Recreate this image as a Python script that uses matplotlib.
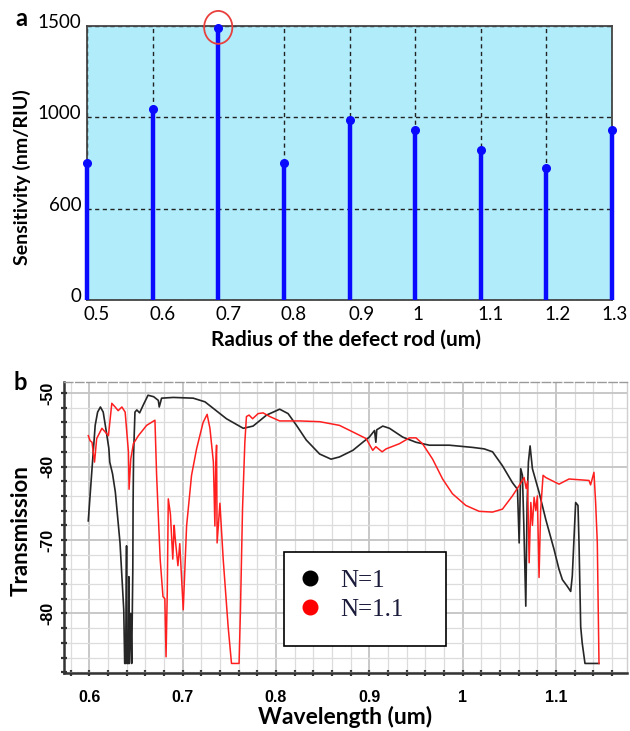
import numpy as np
import matplotlib
matplotlib.use('Agg')
import matplotlib.pyplot as plt
import matplotlib.transforms as mtransforms
from matplotlib.patches import Ellipse, Rectangle
from matplotlib.lines import Line2D

plt.rcParams['font.family'] = ['Lato', 'DejaVu Sans']

# panel a: sensitivity vs defect rod radius
radius = [0.5, 0.6, 0.7, 0.8, 0.9, 1.0, 1.1, 1.2, 1.3]
sensitivity = [800, 1043, 1490, 800, 987, 943, 859, 780, 943]
sens_ticks = [0, 600, 1000, 1500]
radius_labels = ['0.5', '0.6', '0.7', '0.8', '0.9', '1', '1.1', '1.2', '1.3']

# panel b: transmission spectra
wl_n1 = [0.599, 0.603, 0.6064, 0.609, 0.612, 0.615, 0.618, 0.621, 0.622, 0.625,
         0.628, 0.633, 0.637, 0.638, 0.639, 0.640, 0.6405, 0.642, 0.6425, 0.643,
         0.6445, 0.6455, 0.6467, 0.647, 0.6475, 0.649, 0.651, 0.654, 0.658, 0.663,
         0.669, 0.674, 0.675, 0.6765, 0.6775, 0.69, 0.7114, 0.724, 0.733, 0.747,
         0.765, 0.7755, 0.79, 0.804, 0.813, 0.822, 0.8325, 0.8468, 0.859, 0.868,
         0.8824, 0.893, 0.900, 0.9056, 0.907, 0.908, 0.9144, 0.9216, 0.9358, 0.95,
         0.9643, 0.9857, 1.0106, 1.023, 1.032, 1.0426, 1.0533, 1.0587, 1.0605, 1.0622,
         1.064, 1.0655, 1.0676, 1.069, 1.0704, 1.0722, 1.0747, 1.0818, 1.089, 1.0979,
         1.1032, 1.1068, 1.112, 1.1157, 1.1174, 1.121, 1.1235, 1.1246, 1.1264, 1.128,
         1.131, 1.146]
tr_n1 = [-67.4, -60.3, -54.4, -52.6, -51.9, -52.6, -55.0, -57.5, -59.4, -61.0,
         -63.5, -70.4, -79.5, -86.8, -86.8, -70.8, -86.8, -86.8, -75.0, -86.8,
         -80.0, -86.8, -74.0, -65.0, -58.5, -52.6, -52.3, -52.7, -51.6, -50.3,
         -50.5, -51.0, -51.9, -51.2, -50.7, -50.6, -50.7, -51.2, -52.1, -53.5,
         -54.8, -54.5, -53.0, -52.2, -52.8, -54.4, -56.4, -58.3, -59.0, -58.7,
         -57.8, -56.7, -56.0, -55.1, -56.7, -55.0, -54.5, -54.8, -56.0, -56.7,
         -57.1, -57.1, -57.4, -57.6, -58.0, -59.9, -62.2, -63.1, -70.4, -60.3,
         -61.2, -68.0, -79.0, -65.0, -59.4, -57.2, -60.3, -63.5, -67.2, -71.3,
         -74.0, -75.4, -76.3, -77.0, -74.9, -64.9, -65.3, -70.4, -81.8, -84.0,
         -86.8, -86.8]

wl_n11 = [0.599, 0.601, 0.603, 0.6057, 0.608, 0.6136, 0.6206, 0.6242, 0.6278, 0.631,
          0.635, 0.6385, 0.642, 0.6427, 0.6445, 0.6473, 0.6527, 0.6615, 0.6704, 0.6722,
          0.676, 0.679, 0.681, 0.6823, 0.6836, 0.6847, 0.687, 0.6895, 0.691, 0.6919,
          0.695, 0.697, 0.7007, 0.7043, 0.7096, 0.715, 0.722, 0.7263, 0.7293, 0.733,
          0.7346, 0.7355, 0.7364, 0.737, 0.740, 0.7435, 0.7488, 0.7524, 0.7605, 0.762,
          0.7642, 0.7667, 0.7684, 0.7712, 0.775, 0.7809, 0.7862, 0.7934, 0.804, 0.8254,
          0.8468, 0.868, 0.8824, 0.8966, 0.9037, 0.907, 0.9137, 0.918, 0.9322, 0.943,
          0.95, 0.957, 0.9678, 0.9785, 0.989, 1.0034, 1.0177, 1.032, 1.0426, 1.0533,
          1.0605, 1.0658, 1.068, 1.0695, 1.0712, 1.073, 1.0747, 1.0765, 1.0783, 1.08,
          1.0818, 1.0835, 1.0861, 1.089, 1.1032, 1.1139, 1.1353, 1.137, 1.1406, 1.1424,
          1.1442, 1.146]
tr_n11 = [-55.8, -56.5, -56.7, -59.4, -56.2, -54.8, -55.8, -51.4, -51.9, -52.4,
          -51.9, -52.6, -58.0, -63.1, -59.0, -56.9, -55.8, -54.4, -53.7, -61.2,
          -72.6, -77.7, -78.0, -85.9, -77.2, -64.4, -66.5, -72.6, -68.0, -69.5,
          -73.5, -70.5, -79.5, -68.1, -61.2, -57.6, -54.0, -52.9, -54.8, -59.4,
          -68.1, -60.0, -57.1, -70.4, -65.0, -72.6, -81.8, -86.8, -86.8, -79.5,
          -65.8, -56.7, -53.2, -53.0, -53.5, -52.8, -52.7, -53.2, -53.8, -53.8,
          -53.9, -54.4, -55.3, -56.2, -57.8, -57.3, -58.0, -57.6, -56.9, -56.1,
          -56.1, -56.9, -59.0, -61.7, -63.7, -65.3, -66.1, -66.2, -65.8, -64.0,
          -62.6, -61.5, -63.0, -62.0, -73.1, -64.9, -68.0, -64.2, -66.0, -64.0,
          -75.1, -66.0, -61.2, -61.5, -62.4, -61.7, -61.9, -62.5, -60.8, -64.9,
          -70.4, -86.8]

tr_ticks = [-50, -60, -70, -80]
tr_tick_labels = ['-50', '-80', '-70', '-80']
wl_ticks = [0.6, 0.7, 0.8, 0.9, 1.0, 1.1]
wl_tick_labels = ['0.6', '0.7', '0.8', '0.9', '1', '1.1']

fig = plt.figure(figsize=(6.3, 7.31), dpi=100)

# ---------------- panel a ----------------
ax = fig.add_axes([87 / 630, 1 - 300 / 731, 525 / 630, 274 / 731])
ax.set_facecolor('#b1ecfb')

tick_pos = list(range(len(sens_ticks)))
ax.set_yscale('function', functions=(lambda v: np.interp(v, sens_ticks, tick_pos),
                                     lambda u: np.interp(u, tick_pos, sens_ticks)))
ax.set_xlim(0.5, 1.3)
ax.set_ylim(0, 1500)

ax.vlines(radius, 0, sensitivity, color='#0a0aff', lw=3.2, clip_on=False, zorder=3)
ax.plot(radius, sensitivity, 'o', color='#0a0aff', ms=5.5, clip_on=False, zorder=4)

ax.set_xticks(radius)
ax.set_xticklabels(radius_labels)
ax.set_yticks(sens_ticks)
ax.set_yticklabels([str(v) for v in sens_ticks])
ax.tick_params(length=0, labelsize=13.5, pad=4)
ax.grid(True, color='#222222', ls=(0, (3, 2.5)), lw=1.0)
for sp in ax.spines.values():
    sp.set_color('#444444')
    sp.set_linewidth(1.3)

# the labels in the original sit a little right of their ticks
shifts = [10, 10, 10, 10, 12, 3, 10, 11, 3]
for lab, s in zip(ax.get_xticklabels(), shifts):
    lab.set_transform(lab.get_transform() + mtransforms.ScaledTranslation(s / 100, 0, fig.dpi_scale_trans))
off_y = mtransforms.ScaledTranslation(0, 5 / 100, fig.dpi_scale_trans)
for lab in ax.get_yticklabels():
    lab.set_transform(lab.get_transform() + off_y)

ax.set_xlabel('Radius of the defect rod (um)', fontsize=15, fontweight='bold')
ax.xaxis.set_label_coords(0.493, -0.107)
ax.set_ylabel('Sensitivity (nm/RIU)', fontsize=14, fontweight='bold')
ax.yaxis.set_label_coords(-0.106, 0.45)

# red circle around the max
circ = Ellipse((0.7, 0.995), 0.043, 0.12, fill=False, edgecolor='#e8403c', lw=1.3,
               transform=mtransforms.blended_transform_factory(ax.transData, ax.transAxes),
               clip_on=False, zorder=5)
ax.add_patch(circ)

fig.text(21 / 630, 1 - 19 / 731, 'a', fontsize=17, fontweight='bold', ha='center', va='center')

# ---------------- panel b ----------------
bx = fig.add_axes([64 / 630, 1 - 673 / 731, 563 / 630, 291 / 731])
bx.set_xlim(0.573, 1.176)
bx.set_ylim(-88.1, -48.5)

bx.set_xticks(wl_ticks)
bx.set_xticklabels(wl_tick_labels)
bx.set_xticks(np.arange(0.58, 1.18, 0.02), minor=True)
bx.set_yticks(tr_ticks)
bx.set_yticklabels(tr_tick_labels, rotation=90, va='center')
bx.set_yticks(np.arange(-88, -48, 2), minor=True)
bx.grid(True, which='major', color='#c4c4c4', lw=1.3)
bx.grid(True, which='minor', color='#dcdcdc', lw=0.9)
bx.set_axisbelow(True)

for lab in bx.get_xticklabels() + bx.get_yticklabels():
    lab.set_fontfamily(['Liberation Sans Narrow', 'Liberation Sans'])
    lab.set_fontweight('bold')
    lab.set_fontsize(11.5)
bx.tick_params(which='both', direction='inout', length=4, width=1.6, color='#333333')
bx.tick_params(axis='x', which='major', pad=10)
bx.tick_params(axis='y', which='major', pad=4.5)

for side in ['bottom', 'left']:
    bx.spines[side].set_color('#333333')
    bx.spines[side].set_linewidth(1.8)
bx.spines['top'].set_color('#9a9a9a')
bx.spines['top'].set_linestyle((0, (6, 2)))
bx.spines['top'].set_linewidth(1.0)
bx.spines['right'].set_color('#cfcfcf')
bx.spines['right'].set_linewidth(1.0)

bx.plot(wl_n1, tr_n1, color='#262626', lw=1.2, zorder=3)
bx.plot(wl_n11, tr_n11, color='#ff1f1f', lw=1.1, zorder=3)

bx.set_xlabel('Wavelength (um)', fontsize=16.5, fontweight='bold')
bx.xaxis.set_label_coords(0.5, -0.113)
bx.set_ylabel('Transmission', fontsize=16, fontweight='bold')
bx.yaxis.set_label_coords(-0.057, 0.49)

# legend with a plain square frame
frame = Rectangle((0.391, 0.093), 0.2875, 0.323, transform=bx.transAxes, fill=True,
                  facecolor='white', edgecolor='black', lw=1.2, zorder=4)
bx.add_patch(frame)
handles = [Line2D([], [], ls='', marker='o', ms=10.5, color='black'),
           Line2D([], [], ls='', marker='o', ms=10.5, color='#ff0000')]
leg = bx.legend(handles, ['N=1', 'N=1.1'], loc='upper left', bbox_to_anchor=(0.384, 0.415),
                frameon=False, prop={'family': ['Liberation Serif'], 'size': 18},
                handletextpad=0.7, labelspacing=0.25, handlelength=1.0, borderpad=0.2)
leg.set_zorder(5)
for t in leg.get_texts():
    t.set_color('#1a1a3a')

fig.text(20 / 630, 1 - 382 / 731, 'b', fontsize=17, fontweight='bold', ha='center', va='center')

fig.savefig('out.png', dpi=100)
